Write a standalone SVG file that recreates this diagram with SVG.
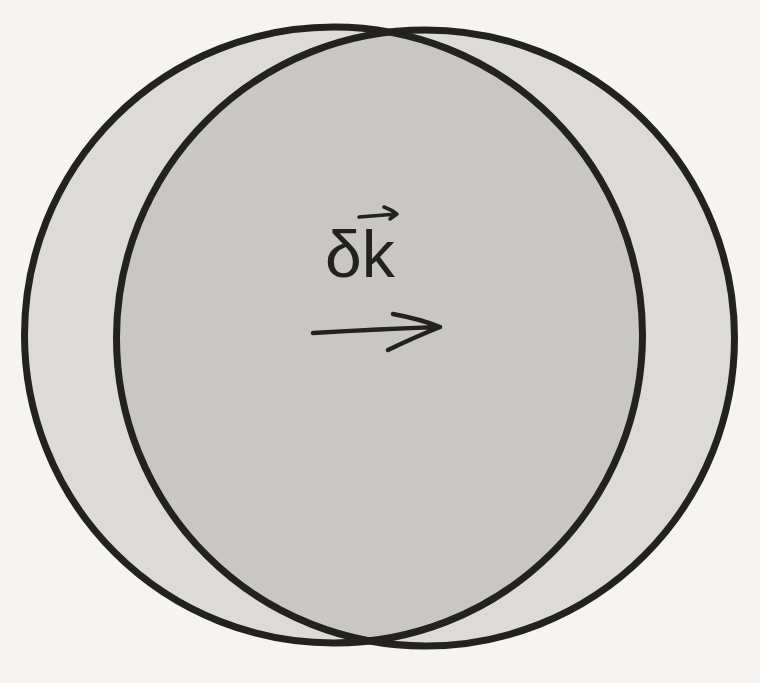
<svg xmlns="http://www.w3.org/2000/svg" width="760" height="683" viewBox="0 0 760 683">
  <defs>
    <style>
      .disc { fill: #dcdbd8; }
      .lens { fill: #c8c7c4; }
      .outline { fill: none; stroke: #23221f; stroke-width: 7; }
      .ink { fill: none; stroke: #23221f; stroke-width: 4.5; stroke-linecap: round; stroke-linejoin: round; }
      .label { font-family: "Liberation Sans", "DejaVu Sans", sans-serif; font-size: 66px; fill: #23221f; }
    </style>
    <clipPath id="clipLeft">
      <ellipse cx="333.5" cy="335" rx="309" ry="308"/>
    </clipPath>
  </defs>
  <rect width="760" height="683" fill="#f5f4f1"/>
  <g id="left-disc">
    <ellipse class="disc" cx="333.5" cy="335" rx="309" ry="308"/>
  </g>
  <g id="right-disc">
    <ellipse class="disc" cx="425.5" cy="338" rx="309" ry="308"/>
  </g>
  <g id="overlap">
    <ellipse class="lens" cx="425.5" cy="338" rx="309" ry="308" clip-path="url(#clipLeft)"/>
  </g>
  <g id="outlines">
    <ellipse class="outline" cx="333.5" cy="335" rx="309" ry="308"/>
    <ellipse class="outline" cx="425.5" cy="338" rx="309" ry="308"/>
  </g>
  <g id="label">
    <text class="label" x="325" y="277">δk</text>
    <path class="ink" d="M359 217 L397 214 M384 207 Q392 210 397 214 L390 219" style="stroke-width:3.5"/>
  </g>
  <g id="connectors">
    <path class="ink" d="M313 333 Q380 329 440 327 M393 314 Q420 319 440 327 Q415 337 388 350"/>
  </g>
</svg>
